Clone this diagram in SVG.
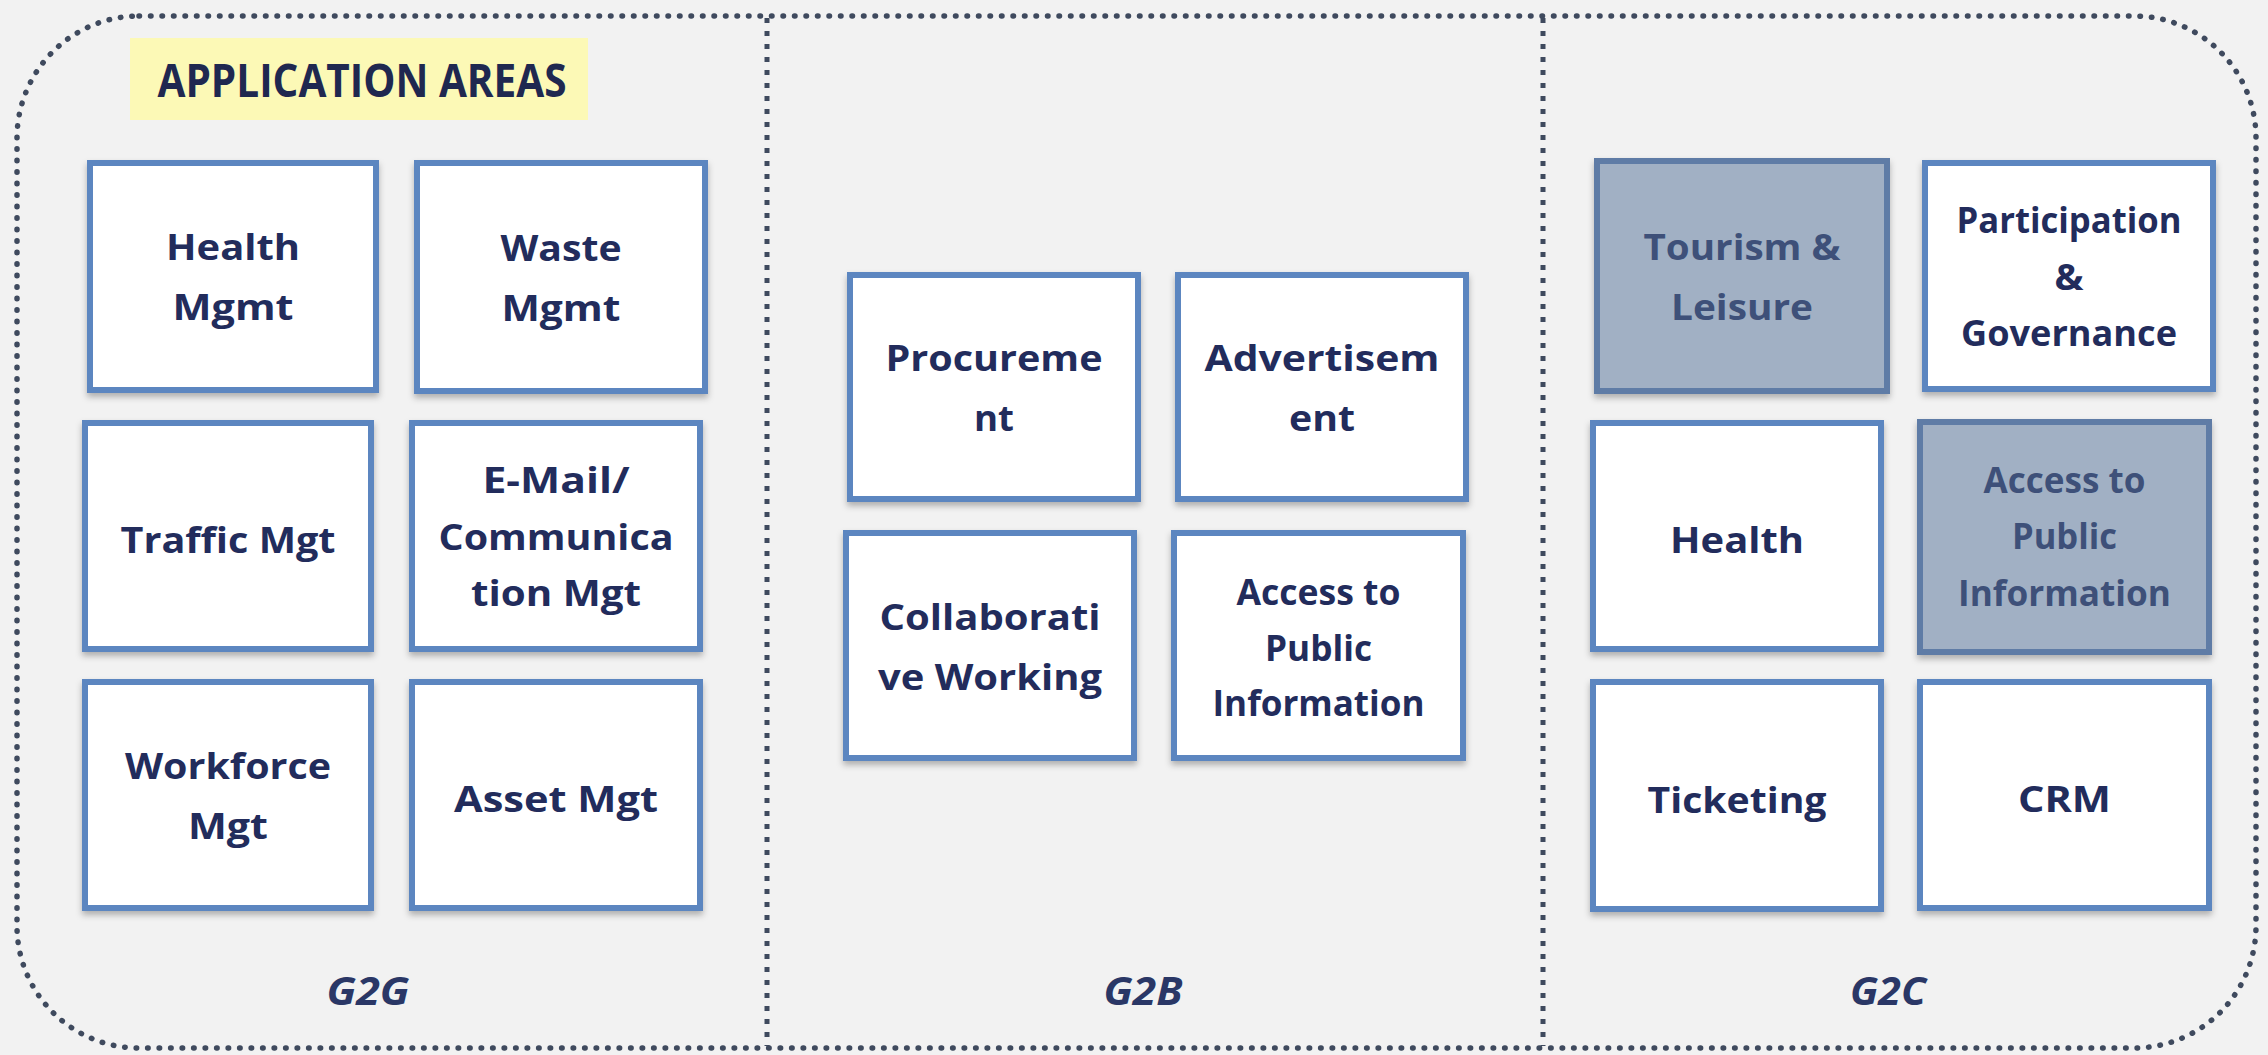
<svg xmlns="http://www.w3.org/2000/svg" width="2268" height="1055" viewBox="0 0 2268 1055">
<defs>
<filter id="sh" x="-10%" y="-10%" width="120%" height="125%">
<feDropShadow dx="0" dy="4" stdDeviation="3" flood-color="#000" flood-opacity="0.28"/>
</filter>
<style>
.box rect{fill:#ffffff;stroke:#5b86c0;stroke-width:6;filter:url(#sh)}
.dark rect{fill:#a1b0c4;stroke:#5f7ca6}
.t{font-family:"Open Sans","Liberation Sans",sans-serif;font-weight:700;font-size:36px;fill:#222c5c;text-anchor:middle}
.dark .t{fill:#3e5079}
.lab{font-family:"Open Sans","Liberation Sans",sans-serif;font-weight:700;font-style:italic;font-size:40px;fill:#2a3766;text-anchor:middle}
.title{font-family:"Open Sans","Liberation Sans",sans-serif;font-weight:700;font-size:46px;fill:#1f2850;text-anchor:middle}
.edge{fill:none;stroke:#3f4a5e;stroke-width:5.5;stroke-dasharray:0.5 11;stroke-linecap:round}
.div{fill:none;stroke:#3f4a5e;stroke-width:5;stroke-dasharray:5 8}
</style>
</defs>
<rect x="0" y="0" width="2268" height="1055" fill="#f2f2f2"/>
<g id="frame">
<rect class="edge" x="17" y="16" width="2239" height="1032" rx="122" ry="122"/>
<line class="div" x1="767" y1="18" x2="767" y2="1046"/>
<line class="div" x1="1543" y1="18" x2="1543" y2="1046"/>
</g>
<g id="title">
<rect x="130" y="38" width="458" height="82" fill="#fcf9b6"/>
<text class="title" x="362" y="97" textLength="409" lengthAdjust="spacingAndGlyphs">APPLICATION AREAS</text>
</g>
<g id="connectors"></g>
<g id="n-health-mgmt" class="box">
<rect x="90" y="163" width="286" height="227"/>
<text class="t" x="233" y="260" textLength="134" lengthAdjust="spacingAndGlyphs">Health</text>
<text class="t" x="233" y="320" textLength="121" lengthAdjust="spacingAndGlyphs">Mgmt</text>
</g>
<g id="n-waste-mgmt" class="box">
<rect x="417" y="163" width="288" height="228"/>
<text class="t" x="561" y="261" textLength="121" lengthAdjust="spacingAndGlyphs">Waste</text>
<text class="t" x="561" y="321" textLength="119" lengthAdjust="spacingAndGlyphs">Mgmt</text>
</g>
<g id="n-traffic" class="box">
<rect x="85" y="423" width="286" height="226"/>
<text class="t" x="228" y="553" textLength="215" lengthAdjust="spacingAndGlyphs">Traffic Mgt</text>
</g>
<g id="n-email" class="box">
<rect x="412" y="423" width="288" height="226"/>
<text class="t" x="556" y="493" textLength="147" lengthAdjust="spacingAndGlyphs">E-Mail/</text>
<text class="t" x="556" y="550" textLength="235" lengthAdjust="spacingAndGlyphs">Communica</text>
<text class="t" x="556" y="606" textLength="170" lengthAdjust="spacingAndGlyphs">tion Mgt</text>
</g>
<g id="n-workforce" class="box">
<rect x="85" y="682" width="286" height="226"/>
<text class="t" x="228" y="779" textLength="206" lengthAdjust="spacingAndGlyphs">Workforce</text>
<text class="t" x="228" y="839" textLength="80" lengthAdjust="spacingAndGlyphs">Mgt</text>
</g>
<g id="n-asset" class="box">
<rect x="412" y="682" width="288" height="226"/>
<text class="t" x="556" y="812" textLength="204" lengthAdjust="spacingAndGlyphs">Asset Mgt</text>
</g>
<g id="n-procurement" class="box">
<rect x="850" y="275" width="288" height="224"/>
<text class="t" x="994" y="371" textLength="217" lengthAdjust="spacingAndGlyphs">Procureme</text>
<text class="t" x="994" y="431" textLength="40" lengthAdjust="spacingAndGlyphs">nt</text>
</g>
<g id="n-advertisement" class="box">
<rect x="1178" y="275" width="288" height="224"/>
<text class="t" x="1322" y="371" textLength="235" lengthAdjust="spacingAndGlyphs">Advertisem</text>
<text class="t" x="1322" y="431" textLength="66" lengthAdjust="spacingAndGlyphs">ent</text>
</g>
<g id="n-collaborative" class="box">
<rect x="846" y="533" width="288" height="225"/>
<text class="t" x="990" y="630" textLength="221" lengthAdjust="spacingAndGlyphs">Collaborati</text>
<text class="t" x="990" y="690" textLength="224" lengthAdjust="spacingAndGlyphs">ve Working</text>
</g>
<g id="n-access-g2b" class="box">
<rect x="1174" y="533" width="289" height="225"/>
<text class="t" x="1318.5" y="605" textLength="164" lengthAdjust="spacingAndGlyphs">Access to</text>
<text class="t" x="1318.5" y="661" textLength="107" lengthAdjust="spacingAndGlyphs">Public</text>
<text class="t" x="1318.5" y="716" textLength="212" lengthAdjust="spacingAndGlyphs">Information</text>
</g>
<g id="n-tourism" class="box dark">
<rect x="1597" y="161" width="290" height="230"/>
<text class="t" x="1742" y="260" textLength="197" lengthAdjust="spacingAndGlyphs">Tourism &amp;</text>
<text class="t" x="1742" y="320" textLength="142" lengthAdjust="spacingAndGlyphs">Leisure</text>
</g>
<g id="n-participation" class="box">
<rect x="1925" y="163" width="288" height="226"/>
<text class="t" x="2069" y="233" textLength="225" lengthAdjust="spacingAndGlyphs">Participation</text>
<text class="t" x="2069" y="290" textLength="29" lengthAdjust="spacingAndGlyphs">&amp;</text>
<text class="t" x="2069" y="346" textLength="216" lengthAdjust="spacingAndGlyphs">Governance</text>
</g>
<g id="n-health-g2c" class="box">
<rect x="1593" y="423" width="288" height="226"/>
<text class="t" x="1737" y="553" textLength="134" lengthAdjust="spacingAndGlyphs">Health</text>
</g>
<g id="n-access-g2c" class="box dark">
<rect x="1920" y="422" width="289" height="230"/>
<text class="t" x="2064.5" y="493" textLength="162" lengthAdjust="spacingAndGlyphs">Access to</text>
<text class="t" x="2064.5" y="549" textLength="105" lengthAdjust="spacingAndGlyphs">Public</text>
<text class="t" x="2064.5" y="606" textLength="213" lengthAdjust="spacingAndGlyphs">Information</text>
</g>
<g id="n-ticketing" class="box">
<rect x="1593" y="682" width="288" height="227"/>
<text class="t" x="1737" y="813" textLength="179" lengthAdjust="spacingAndGlyphs">Ticketing</text>
</g>
<g id="n-crm" class="box">
<rect x="1920" y="682" width="289" height="226"/>
<text class="t" x="2064.5" y="812" textLength="93" lengthAdjust="spacingAndGlyphs">CRM</text>
</g>
<g id="labels">
<text class="lab" x="368" y="1005" textLength="83" lengthAdjust="spacingAndGlyphs">G2G</text>
<text class="lab" x="1143" y="1005" textLength="79" lengthAdjust="spacingAndGlyphs">G2B</text>
<text class="lab" x="1888" y="1005" textLength="76" lengthAdjust="spacingAndGlyphs">G2C</text>
</g>
</svg>
